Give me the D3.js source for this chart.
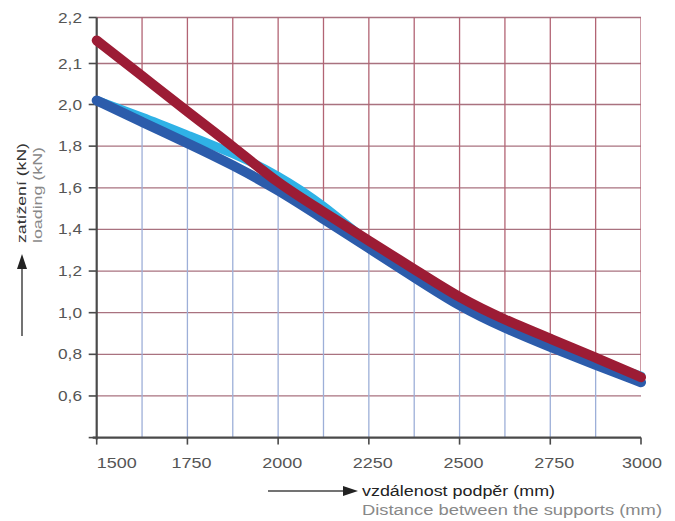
<!DOCTYPE html>
<html>
<head>
<meta charset="utf-8">
<script src="https://cdn.jsdelivr.net/npm/d3@7"></script>
<style>
  html, body { margin: 0; padding: 0; background: #fff; }
  svg { display: block; font-family: "Liberation Sans", Arial, sans-serif; }
</style>
</head>
<body>
<svg id="chart" width="675" height="521"></svg>
<script>
// ---- data ----
const distance = [1500, 1625, 1750, 1875, 2000, 2125, 2250, 2375, 2500, 2625, 2750, 2875, 3000];
const redLoad  = [2.15, 2.07, 1.965, 1.80, 1.62, 1.485, 1.345, 1.21, 1.07, 0.965, 0.875, 0.785, 0.69];
const blueLoad = [2.01, 1.915, 1.815, 1.71, 1.59, 1.45, 1.31, 1.17, 1.03, 0.925, 0.835, 0.748, 0.666];
const cyanLoad = [2.01, 1.94, 1.853, 1.767, 1.661, 1.518, 1.331, 1.187, 1.048, 0.937, 0.845, 0.763, 0.696];

const xTicks = [1500, 1750, 2000, 2250, 2500, 2750, 3000];
const xGrid = [1625, 1750, 1875, 2000, 2125, 2250, 2375, 2500, 2625, 2750, 2875, 3000];
const yTicks = [2.2, 2.1, 2.0, 1.8, 1.6, 1.4, 1.2, 1.0, 0.8, 0.6, 0.4];
const yTickLabels = ["2,2", "2,1", "2,0", "1,8", "1,6", "1,4", "1,2", "1,0", "0,8", "0,6", ""];

const yTitle = ["zatížení (kN)", "loading (kN)"];
const xTitle = ["vzdálenost podpěr (mm)", "Distance between the supports (mm)"];

// ---- scales ----
const svg = d3.select("#chart");
const x = d3.scaleLinear().domain([1500, 3000]).range([96.7, 641]);
const y = d3.scaleLinear().domain([0.4, 2.0, 2.1, 2.2]).range([437.6, 104.5, 63.5, 17.5]);
const yTop = y(2.2), yBot = y(0.4);

const series = (vals) => distance.map((d, i) => [d, vals[i]]);
const curve = d3.curveBasis;
const line = d3.line().x(d => x(d[0])).y(d => y(d[1])).curve(curve);

// clip regions: above red curve / below blue curve
const defs = svg.append("defs");
defs.append("clipPath").attr("id", "clipTop").append("path")
  .attr("d", d3.area().x(d => x(d[0])).y0(yTop - 2).y1(d => y(d[1])).curve(curve)(series(redLoad)));
defs.append("clipPath").attr("id", "clipBot").append("path")
  .attr("d", d3.area().x(d => x(d[0])).y0(d => y(d[1])).y1(yBot).curve(curve)(series(blueLoad)));

// horizontal grid
svg.append("g").selectAll("line").data(yTicks.filter(v => v > 0.4)).join("line")
  .attr("x1", x(1500)).attr("x2", x(3000))
  .attr("y1", d => y(d)).attr("y2", d => y(d))
  .attr("stroke", "#a9727f").attr("stroke-width", 1.3);

// vertical grid, red above curves
svg.append("g").attr("clip-path", "url(#clipTop)").selectAll("line").data(xGrid).join("line")
  .attr("x1", d => x(d)).attr("x2", d => x(d))
  .attr("y1", yTop).attr("y2", yBot)
  .attr("stroke", "#b26474").attr("stroke-width", 1.3);
// vertical grid, blue below curves
svg.append("g").attr("clip-path", "url(#clipBot)").selectAll("line").data(xGrid.filter(d => d < 3000)).join("line")
  .attr("x1", d => x(d)).attr("x2", d => x(d))
  .attr("y1", yTop).attr("y2", yBot)
  .attr("stroke", "#9dafd8").attr("stroke-width", 1.3);

// axes
const axisColor = "#4a4a4a";
svg.append("line").attr("x1", x(1500)).attr("x2", x(1500)).attr("y1", yTop).attr("y2", yBot + 2)
  .attr("stroke", axisColor).attr("stroke-width", 2.2);
svg.append("line").attr("x1", x(1500) - 4).attr("x2", x(3000)).attr("y1", yBot).attr("y2", yBot)
  .attr("stroke", axisColor).attr("stroke-width", 2.2);

// y ticks + labels
const yt = svg.append("g").selectAll("g").data(yTicks).join("g")
  .attr("transform", d => `translate(0,${y(d)})`);
yt.append("line").attr("x1", x(1500) - 8).attr("x2", x(1500)).attr("stroke", axisColor).attr("stroke-width", 1.6);
yt.append("text").text((d, i) => yTickLabels[i])
  .attr("x", 82).attr("dy", "0.36em").attr("text-anchor", "end")
  .attr("font-size", 14).attr("fill", "#555")
  .attr("textLength", (d, i) => yTickLabels[i] ? 24 : null).attr("lengthAdjust", "spacingAndGlyphs");

// x ticks + labels
const xt = svg.append("g").selectAll("g").data(xTicks).join("g")
  .attr("transform", d => `translate(${x(d)},0)`);
xt.append("line").attr("y1", yBot).attr("y2", yBot + 7).attr("stroke", axisColor).attr("stroke-width", 1.6);
xt.append("text").text(d => d)
  .attr("x", (d, i) => i === 0 ? 20 : (i === xTicks.length - 1 ? 1 : 4))
  .attr("y", 468).attr("text-anchor", "middle")
  .attr("font-size", 15).attr("fill", "#555")
  .attr("textLength", 40).attr("lengthAdjust", "spacingAndGlyphs");

// data lines
const lines = [
  { vals: cyanLoad, color: "#2fb2e6", w: 9 },
  { vals: blueLoad, color: "#2c5cab", w: 10 },
  { vals: redLoad,  color: "#9c1c35", w: 10 }
];
svg.append("g").selectAll("path").data(lines).join("path")
  .attr("d", d => line(series(d.vals)))
  .attr("fill", "none").attr("stroke", d => d.color).attr("stroke-width", d => d.w)
  .attr("stroke-linecap", "round").attr("stroke-linejoin", "round");

// y title with arrow
svg.append("text").text(yTitle[0]).attr("transform", "translate(26,243) rotate(-90)")
  .attr("font-size", 13).attr("fill", "#333").attr("textLength", 100).attr("lengthAdjust", "spacingAndGlyphs");
svg.append("text").text(yTitle[1]).attr("transform", "translate(42,243) rotate(-90)")
  .attr("font-size", 13).attr("fill", "#888").attr("textLength", 96).attr("lengthAdjust", "spacingAndGlyphs");
svg.append("line").attr("x1", 22).attr("x2", 22).attr("y1", 336).attr("y2", 266)
  .attr("stroke", "#444").attr("stroke-width", 1.5);
svg.append("path").attr("d", "M22,254 L17,269 L27,269 Z").attr("fill", "#222");

// x title with arrow
svg.append("line").attr("x1", 268).attr("x2", 346).attr("y1", 491).attr("y2", 491)
  .attr("stroke", "#444").attr("stroke-width", 1.5);
svg.append("path").attr("d", "M358,491 L343,486 L343,496 Z").attr("fill", "#222");
svg.append("text").text(xTitle[0]).attr("x", 362).attr("y", 496)
  .attr("font-size", 14).attr("fill", "#222").attr("textLength", 193).attr("lengthAdjust", "spacingAndGlyphs");
svg.append("text").text(xTitle[1]).attr("x", 362).attr("y", 515)
  .attr("font-size", 14).attr("fill", "#888").attr("textLength", 300).attr("lengthAdjust", "spacingAndGlyphs");
</script>
</body>
</html>
